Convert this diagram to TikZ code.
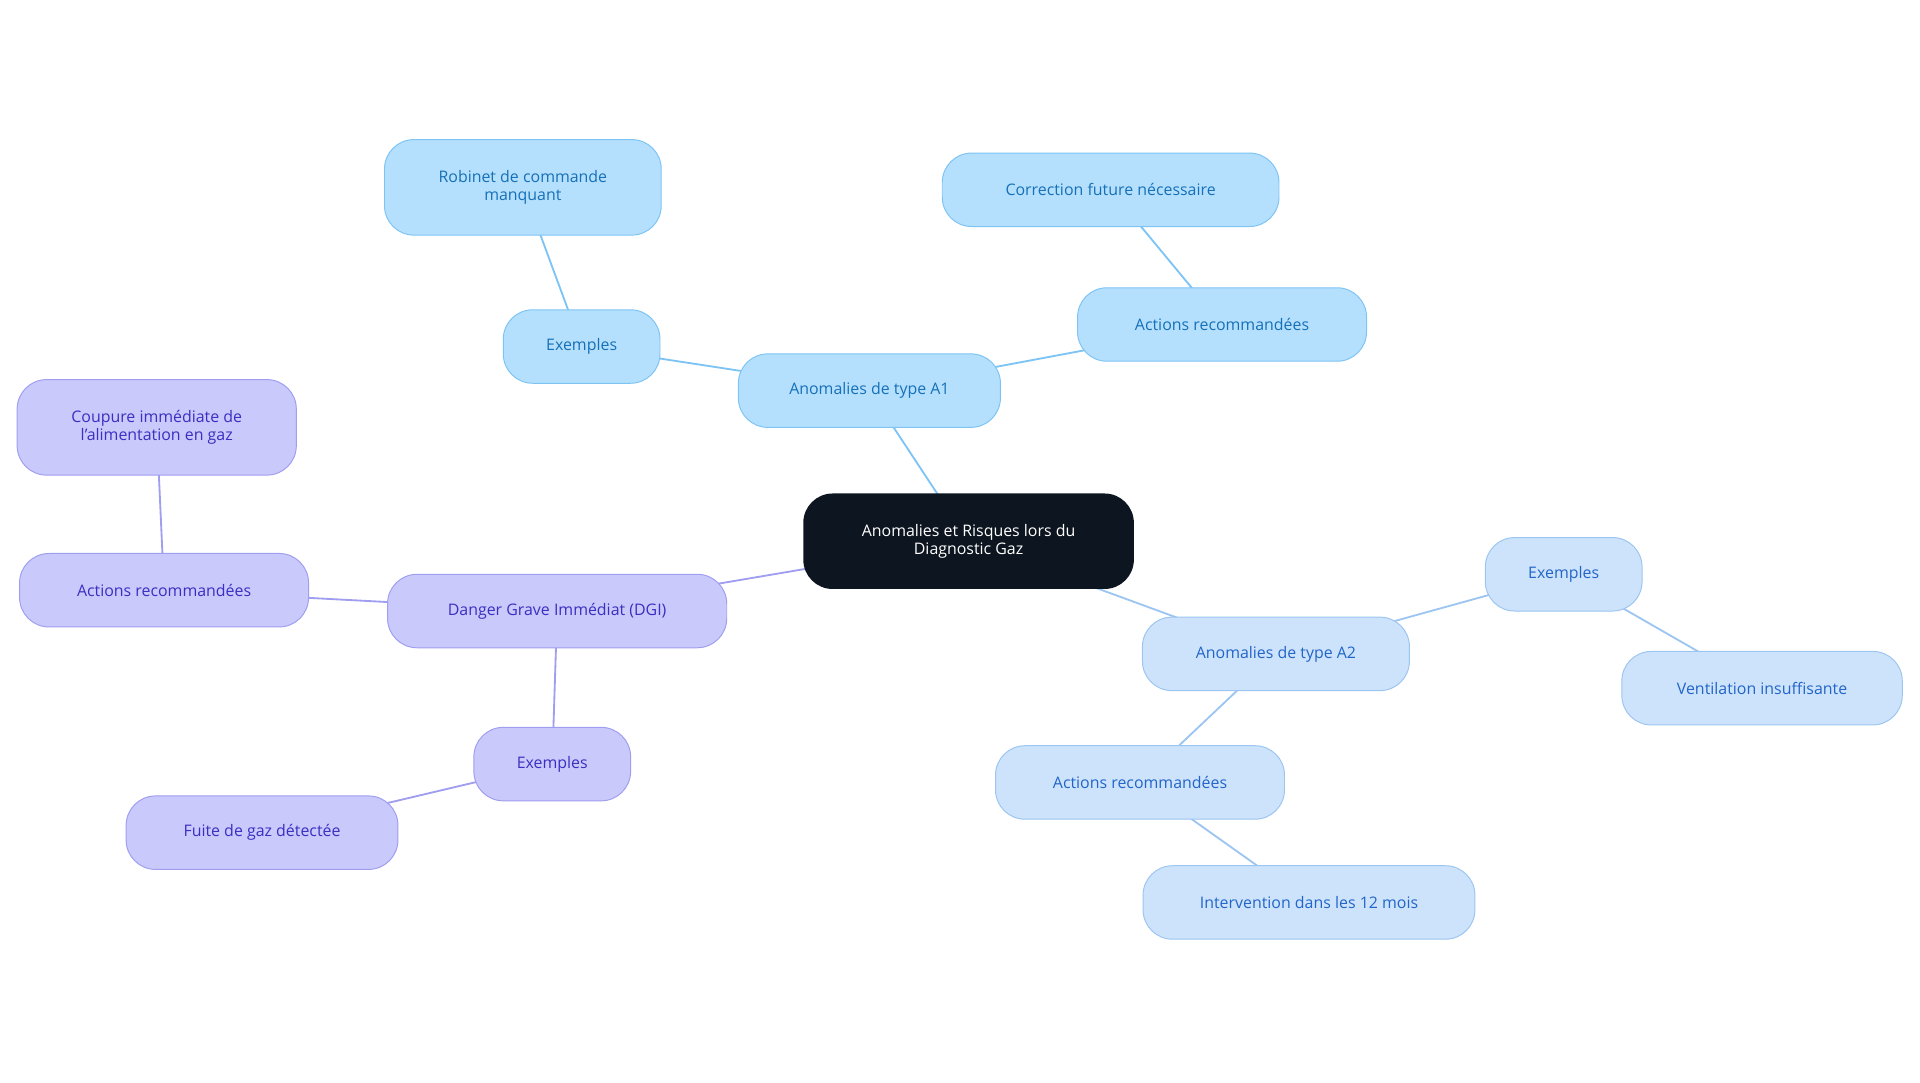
\documentclass[tikz,border=0pt]{standalone}
\usepackage{fontspec}
\setmainfont{Open Sans}
\definecolor{aonefill}{HTML}{B5E0FD}
\definecolor{aonedraw}{HTML}{7DC4F5}
\definecolor{aonetext}{HTML}{1570B8}
\definecolor{atwofill}{HTML}{CDE3FB}
\definecolor{atwodraw}{HTML}{9CC5F2}
\definecolor{atwotext}{HTML}{2265C8}
\definecolor{dgifill}{HTML}{C9C9FC}
\definecolor{dgidraw}{HTML}{A09EF0}
\definecolor{dgitext}{HTML}{3A2FC0}
\definecolor{rootfill}{HTML}{0D1520}
\tikzset{
  box/.style={rounded corners=24pt, minimum height=60pt, align=center,
    font=\fontsize{13}{15}\selectfont, line width=0.8pt},
  aone/.style={box, fill=aonefill, draw=aonedraw, text=aonetext},
  atwo/.style={box, fill=atwofill, draw=atwodraw, text=atwotext},
  dgi/.style={box, fill=dgifill, draw=dgidraw, text=dgitext},
  lone/.style={draw=aonedraw, line width=1.5pt},
  ltwo/.style={draw=atwodraw, line width=1.5pt},
  ldgi/.style={draw=dgidraw, line width=1.5pt},
}
\begin{document}
\begin{tikzpicture}[x=1pt, y=-1pt]
    \useasboundingbox (0,0) rectangle (1568,884);
    % edges first
    \coordinate (c) at (791,442);
    \coordinate (a1) at (710,319);
    \coordinate (ea1) at (475,283);
    \coordinate (ra1) at (427,153);
    \coordinate (aa1) at (998,265);
    \coordinate (ca1) at (907,155);
    \coordinate (a2) at (1042,534);
    \coordinate (ea2) at (1277,469);
    \coordinate (va2) at (1439,562);
    \coordinate (aa2) at (931,639);
    \coordinate (ia2) at (1069,737);
    \coordinate (d) at (455,499);
    \coordinate (ad) at (134,482);
    \coordinate (cd) at (128,349);
    \coordinate (ed) at (451,624);
    \coordinate (fd) at (214,680);
    \draw [lone] (c) -- (a1) -- (ea1) -- (ra1);
    \draw [lone] (a1) -- (aa1) -- (ca1);
    \draw [ltwo] (c) -- (a2) -- (ea2) -- (va2);
    \draw [ltwo] (a2) -- (aa2) -- (ia2);
    \draw [ldgi] (c) -- (d) -- (ad) -- (cd);
    \draw [ldgi] (d) -- (ed) -- (fd);
    % nodes
    \node[box, fill=rootfill, text=white, minimum width=270pt, minimum height=78pt] (root) at (c) {Anomalies et Risques lors du\\Diagnostic Gaz};
    \node[aone, minimum width=214pt] (typeA1) at (a1) {Anomalies de type A1};
    \node[aone, minimum width=128pt] (exA1) at (ea1) {Exemples};
    \node[aone, minimum width=226pt, minimum height=78pt] (robinet) at (ra1) {Robinet de commande\\manquant};
    \node[aone, minimum width=236pt] (actA1) at (aa1) {Actions recommandées};
    \node[aone, minimum width=275pt] (correction) at (ca1) {Correction future nécessaire};
    \node[atwo, minimum width=218pt] (typeA2) at (a2) {Anomalies de type A2};
    \node[atwo, minimum width=128pt] (exA2) at (ea2) {Exemples};
    \node[atwo, minimum width=229pt] (ventil) at (va2) {Ventilation insuffisante};
    \node[atwo, minimum width=236pt] (actA2) at (aa2) {Actions recommandées};
    \node[atwo, minimum width=271pt] (interv) at (ia2) {Intervention dans les 12 mois};
    \node[dgi, minimum width=277pt] (danger) at (d) {Danger Grave Immédiat (DGI)};
    \node[dgi, minimum width=236pt] (actDGI) at (ad) {Actions recommandées};
    \node[dgi, minimum width=228pt, minimum height=78pt] (coupure) at (cd) {Coupure immédiate de\\l'alimentation en gaz};
    \node[dgi, minimum width=128pt] (exDGI) at (ed) {Exemples};
    \node[dgi, minimum width=222pt] (fuite) at (fd) {Fuite de gaz détectée};
\end{tikzpicture}
\end{document}
